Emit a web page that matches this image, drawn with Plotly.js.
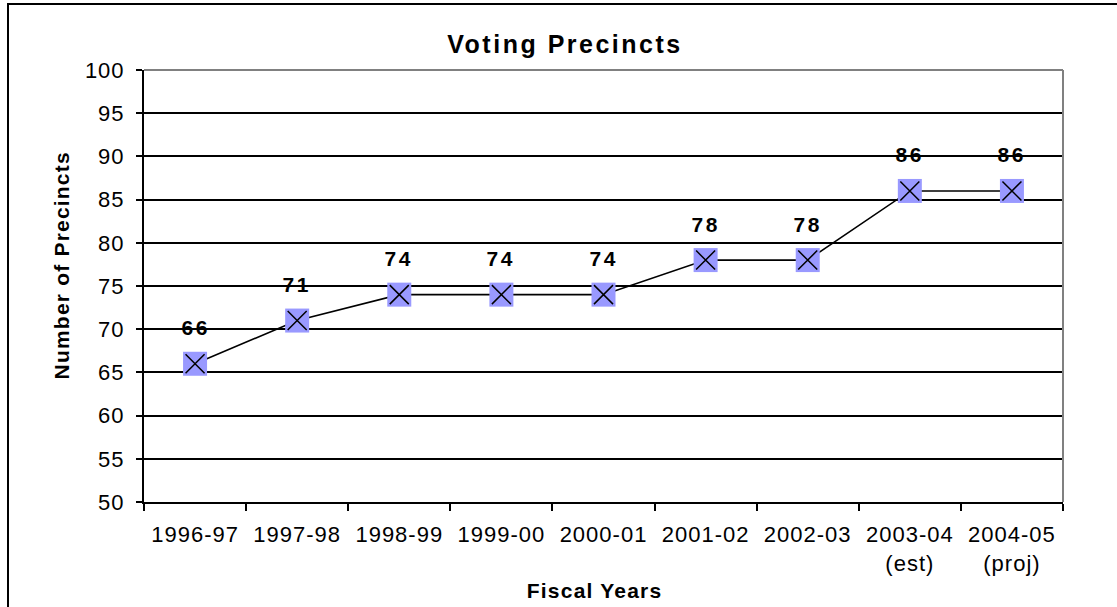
<!DOCTYPE html>
<html>
<head>
<meta charset="utf-8">
<script src="https://cdn.plot.ly/plotly-3.0.1.min.js"></script>
<style>
html,body{margin:0;padding:0;background:#fff;overflow:hidden;}
#chart{width:1117px;height:607px;}
#chart .gtitle{letter-spacing:2.5px;}
#chart .xtick text, #chart .ytick text{letter-spacing:1px;}
#chart .annotation-text{letter-spacing:2.5px;}
#chart .axis-title-ann .annotation-text{letter-spacing:1.2px;}
</style>
</head>
<body>
<div id="chart"></div>
<script>
const categories = ["1996-97","1997-98","1998-99","1999-00","2000-01","2001-02","2002-03","2003-04<br>(est)","2004-05<br>(proj)"];
const precincts = [66, 71, 74, 74, 74, 78, 78, 86, 86];
const yTicks = [50,55,60,65,70,75,80,85,90,95,100];
const chartTitle = "Voting Precincts";
const xTitle = "Fiscal Years";
const yTitle = "Number of Precincts";

const font = "Liberation Sans, Arial, sans-serif";

const traces = [
  {
    x: categories, y: precincts, type: "scatter", mode: "lines+markers",
    line: {color: "#000", width: 1.6},
    marker: {symbol: "square", size: 24, color: "#9999FF", line: {width: 0}},
    hoverinfo: "skip"
  },
  {
    x: categories, y: precincts, type: "scatter", mode: "markers",
    marker: {symbol: "x-thin-open", size: 19, color: "#000", line: {width: 1.5, color: "#000"}},
    hoverinfo: "skip"
  }
];

const annotations = categories.map((c, i) => ({
  x: c, y: precincts[i], xref: "x", yref: "y",
  text: "<b>" + precincts[i] + "</b>", showarrow: false,
  yshift: 36, yanchor: "middle",
  font: {family: font, size: 21, color: "#000"}
}));

// axis titles (placed as annotations to match the original's offsets)
annotations.push({
  text: "<b>" + xTitle + "</b>", showarrow: false,
  xref: "paper", yref: "paper",
  x: (594 - 144) / 919, y: -(590 - 502) / 432, xanchor: "center", yanchor: "middle",
  font: {family: font, size: 21, color: "#000"}
});
annotations.push({
  text: "<b>" + yTitle + "</b>", showarrow: false, textangle: -90,
  xref: "paper", yref: "paper",
  x: (61 - 144) / 919, y: (502 - 266) / 432, xanchor: "center", yanchor: "middle",
  font: {family: font, size: 21, color: "#000"}
});

const layout = {
  width: 1117, height: 607,
  margin: {l: 144, r: 54, t: 70, b: 105},
  paper_bgcolor: "#fff", plot_bgcolor: "#fff",
  showlegend: false,
  title: {text: "<b>" + chartTitle + "</b>", font: {family: font, size: 25, color: "#000"}, x: 565/1117, xanchor: "center", xref: "container", y: 1-44/607, yanchor: "middle"},
  font: {family: font, size: 22, color: "#000"},
  xaxis: {
    type: "category", range: [-0.5, 8.5], showgrid: false, zeroline: false,
    showline: true, linecolor: "#000", linewidth: 2,
    ticks: "outside", tickson: "boundaries", ticklen: 7, tickwidth: 2, tickcolor: "#000",
    ticklabelstandoff: 12,
    tickfont: {family: font, size: 22, color: "#000"},
    fixedrange: true
  },
  yaxis: {
    range: [50, 100], tickvals: yTicks, ticktext: yTicks.map(String),
    showgrid: true, gridcolor: "#000", gridwidth: 2, zeroline: false,
    showline: true, linecolor: "#000", linewidth: 2,
    ticks: "outside", ticklen: 6, tickwidth: 2, tickcolor: "#000",
    ticklabelstandoff: 7,
    tickfont: {family: font, size: 22, color: "#000"},
    fixedrange: true
  },
  annotations: annotations,
  shapes: [
    {type: "line", xref: "paper", yref: "paper", x0: 0, x1: 1, y0: 1, y1: 1, line: {color: "#808080", width: 2}},
    {type: "line", xref: "paper", yref: "paper", x0: 1, x1: 1, y0: 0, y1: 1, line: {color: "#808080", width: 2}},
    {type: "rect", xref: "paper", yref: "paper", x0: (8-144)/919, x1: 1.2, y0: -0.5, y1: (502-4)/432, line: {color: "#000", width: 2}, fillcolor: "rgba(0,0,0,0)", layer: "above"}
  ]
};

Plotly.newPlot("chart", traces, layout, {displayModeBar: false, staticPlot: true}).then(function(gd){
  // tag the two axis-title annotations for spacing style
  const anns = document.querySelectorAll("#chart .annotation");
  const n = anns.length;
  if (n >= 2) { anns[n-1].classList.add("axis-title-ann"); anns[n-2].classList.add("axis-title-ann"); }
});
</script>
</body>
</html>
